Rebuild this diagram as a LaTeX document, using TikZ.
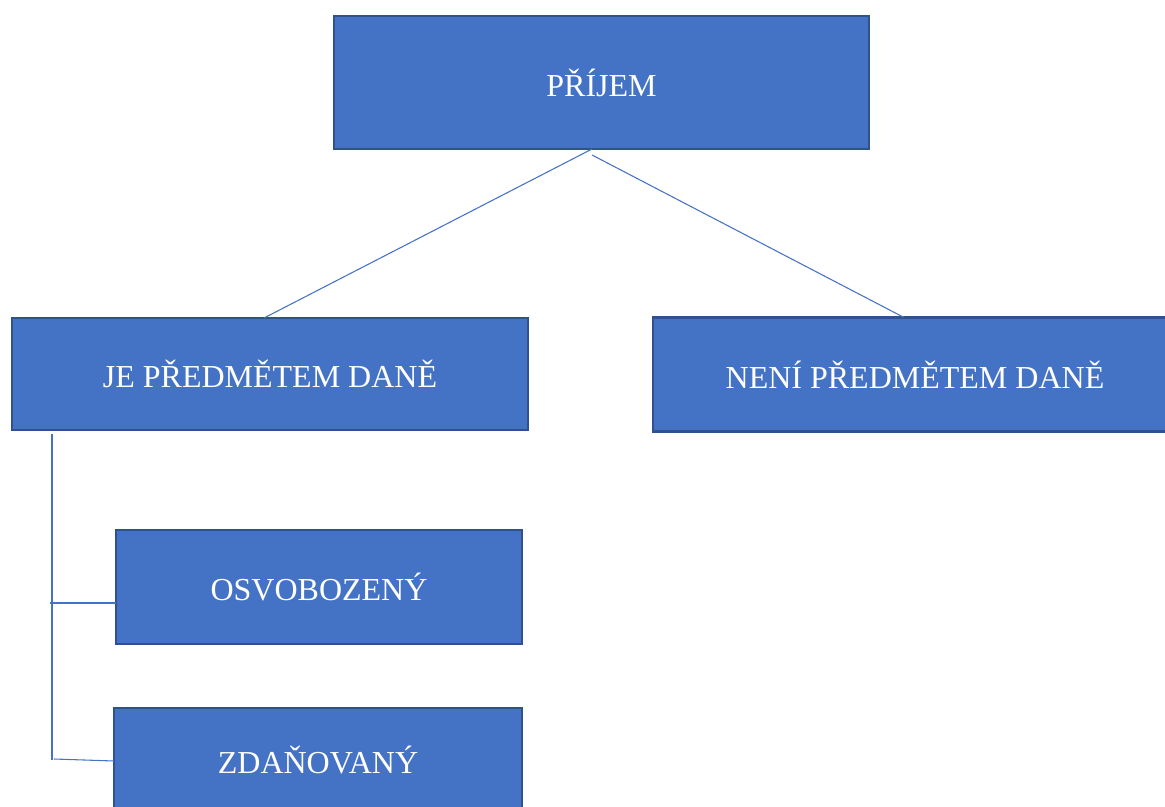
\documentclass[tikz,border=0pt]{standalone}
\usepackage{fontspec}
\setmainfont{Liberation Serif}
\definecolor{boxfill}{HTML}{4472C4}
\definecolor{boxedge}{HTML}{2F528F}
\definecolor{linec}{HTML}{4472C4}
\begin{document}
\begin{tikzpicture}[x=0.75pt,y=-0.75pt,
  box/.style={draw=boxedge, fill=boxfill, line width=2pt, text=white,
    font=\fontsize{24}{28}\selectfont, inner sep=0pt, outer sep=0pt, align=center},
  conn/.style={draw=linec, line width=0.8pt}]
\useasboundingbox (0,0) rectangle (1165,807);
\clip (0,0) rectangle (1165,807);
\node[box, minimum width=401.25pt, minimum height=99.75pt] (prijem) at (601.5,82.5) {PŘÍJEM};
\node[box, minimum width=387pt, minimum height=84pt] (je) at (270,374) {JE PŘEDMĚTEM DANĚ};
\node[box, minimum width=393pt, minimum height=85.5pt] (neni) at (915,374.5) {NENÍ PŘEDMĚTEM DANĚ};
\node[box, minimum width=304.5pt, minimum height=85.5pt] (osv) at (319,587) {OSVOBOZENÝ};
\node[box, minimum width=306pt, minimum height=78pt] (zdan) at (318,760) {ZDAŇOVANÝ};
\draw[conn] ([xshift=-7.1pt]prijem.south) -- ([xshift=-4.5pt]je.north);
\draw[conn] ([xshift=-7.1pt,yshift=-4.5pt]prijem.south) -- ([xshift=-8.25pt]neni.north);
\coordinate (v1) at (52,434);
\coordinate (v2) at (52,760);
\draw[conn] (v1) -- (v2);
\coordinate (h1) at (50,603);
\draw[conn] (h1) -- (osv.west |- h1);
\coordinate (h2) at (54,759);
\draw[conn] (h2) -- ([yshift=-0.75pt]zdan.west);
\end{tikzpicture}
\end{document}
